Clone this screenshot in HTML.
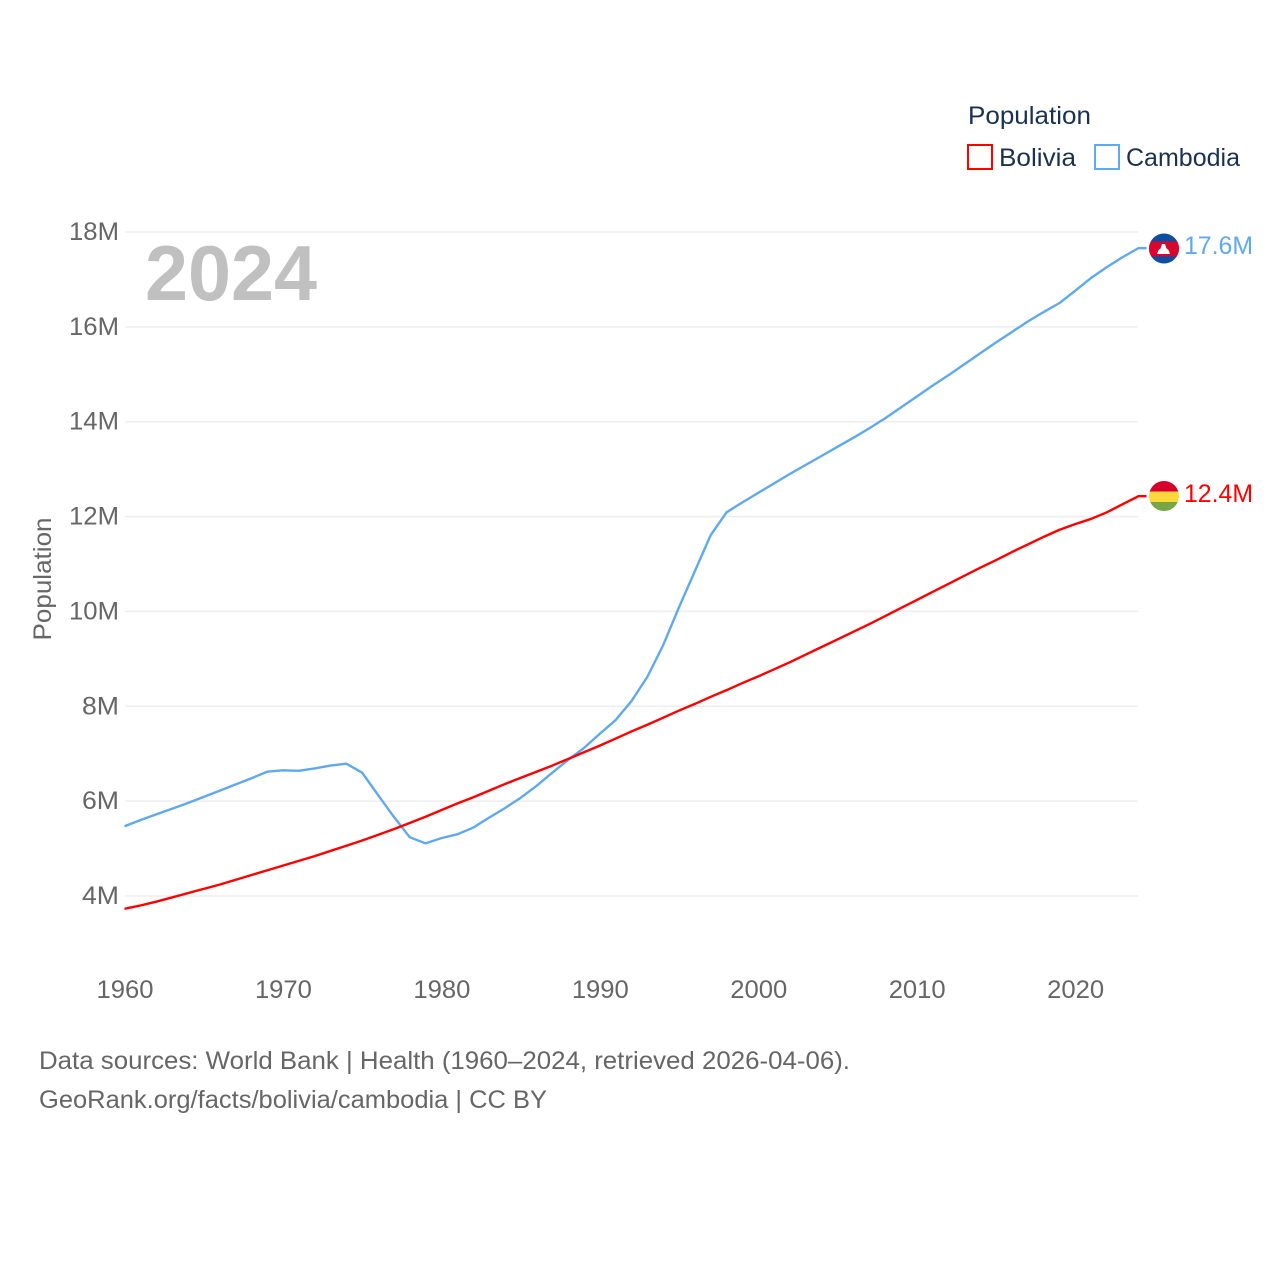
<!DOCTYPE html>
<html lang="en">
<head>
<meta charset="utf-8">
<title>Population: Bolivia and Cambodia</title>
<style>
html,body{margin:0;padding:0;background:#fff;width:1280px;height:1280px;overflow:hidden}
svg{display:block}
text{font-family:"Liberation Sans",sans-serif}
</style>
</head>
<body>
<svg id="chart" width="1280" height="1280" viewBox="0 0 1280 1280" xmlns="http://www.w3.org/2000/svg">
  <g id="grid"></g>
  <g id="ytick-labels"></g>
  <g id="xtick-labels"></g>
  <text transform="translate(51,579) rotate(-90)" text-anchor="middle" font-size="25" fill="#666" textLength="123" lengthAdjust="spacingAndGlyphs">Population</text>
  <text x="145" y="300" font-size="78" font-weight="bold" fill="#c0c0c0" textLength="172" lengthAdjust="spacingAndGlyphs">2024</text>
  <g id="series"></g>

  <g>
    <text x="968" y="124" font-size="25" fill="#1a3152" textLength="123" lengthAdjust="spacingAndGlyphs">Population</text>
    <g>
      <rect x="968" y="145" width="24" height="24" fill="none" stroke="#ff0000" stroke-width="2"/>
      <text x="999" y="166" font-size="25" fill="#1a3152" textLength="77" lengthAdjust="spacingAndGlyphs">Bolivia</text>
    </g>
    <g>
      <rect x="1095" y="145" width="24" height="24" fill="none" stroke="#5ea9ef" stroke-width="2"/>
      <text x="1126" y="166" font-size="25" fill="#1a3152" textLength="114" lengthAdjust="spacingAndGlyphs">Cambodia</text>
    </g>
  </g>

  <defs>
    <clipPath id="flag-clip-kh"><circle cx="1164" cy="248.5" r="15"/></clipPath>
    <clipPath id="flag-clip-bo"><circle cx="1164" cy="496" r="15"/></clipPath>
  </defs>
  <g clip-path="url(#flag-clip-kh)">
    <rect x="1149" y="233" width="30" height="31" fill="#0b4ea2"/>
    <rect x="1149" y="241.5" width="30" height="15" fill="#d8062c"/>
    <path d="M1157 254L1158.5 250L1160.5 248.5L1162 244L1165 244L1166.5 248.5L1168.5 250L1170 254z" fill="#fff"/>
  </g>
  <g clip-path="url(#flag-clip-bo)">
    <rect x="1149" y="481" width="30" height="10.5" fill="#d6002c"/>
    <rect x="1149" y="491.5" width="30" height="10.5" fill="#fdd83a"/>
    <rect x="1149" y="502" width="30" height="10" fill="#75a844"/>
  </g>
  <text x="1184" y="254" font-size="25" fill="#5ea9ef" textLength="69" lengthAdjust="spacingAndGlyphs">17.6M</text>
  <text x="1184" y="502" font-size="25" fill="#ff0000" textLength="69" lengthAdjust="spacingAndGlyphs">12.4M</text>

  <text x="39" y="1069" font-size="25" fill="#666" textLength="811" lengthAdjust="spacingAndGlyphs">Data sources: World Bank | Health (1960–2024, retrieved 2026-04-06).</text>
  <text x="39" y="1108" font-size="25" fill="#666" textLength="508" lengthAdjust="spacingAndGlyphs">GeoRank.org/facts/bolivia/cambodia | CC BY</text>
</svg>
<script>
const years = [1960,1961,1962,1963,1964,1965,1966,1967,1968,1969,1970,1971,1972,1973,1974,1975,1976,1977,1978,1979,1980,1981,1982,1983,1984,1985,1986,1987,1988,1989,1990,1991,1992,1993,1994,1995,1996,1997,1998,1999,2000,2001,2002,2003,2004,2005,2006,2007,2008,2009,2010,2011,2012,2013,2014,2015,2016,2017,2018,2019,2020,2021,2022,2023,2024];
const bolivia = [3.73,3.80,3.88,3.97,4.06,4.15,4.24,4.34,4.44,4.54,4.64,4.74,4.84,4.95,5.06,5.17,5.29,5.41,5.54,5.67,5.81,5.95,6.08,6.22,6.36,6.49,6.62,6.75,6.89,7.03,7.17,7.32,7.47,7.61,7.76,7.91,8.05,8.20,8.34,8.49,8.63,8.78,8.93,9.09,9.25,9.41,9.57,9.73,9.90,10.07,10.24,10.41,10.58,10.75,10.92,11.08,11.25,11.41,11.57,11.72,11.84,11.95,12.09,12.26,12.43];
const cambodia = [5.47,5.60,5.72,5.84,5.96,6.09,6.22,6.35,6.48,6.62,6.65,6.64,6.69,6.75,6.79,6.60,6.13,5.67,5.24,5.11,5.22,5.30,5.44,5.65,5.85,6.07,6.32,6.60,6.87,7.12,7.42,7.71,8.11,8.62,9.29,10.09,10.85,11.61,12.09,12.30,12.50,12.70,12.90,13.09,13.28,13.47,13.66,13.86,14.07,14.30,14.53,14.76,14.98,15.21,15.44,15.67,15.89,16.11,16.31,16.50,16.76,17.03,17.26,17.47,17.66];
const yTicks = [4,6,8,10,12,14,16,18];
const xTicks = [1960,1970,1980,1990,2000,2010,2020];

const NS = 'http://www.w3.org/2000/svg';
function xScale(year){ return 124.5 + (year - 1960) * (1138.5 - 124.5) / 64; }
function yScale(v){ return 896 - (v - 4) * (896 - 232) / 14; }

const gridG = document.getElementById('grid');
const yG = document.getElementById('ytick-labels');
const xG = document.getElementById('xtick-labels');
const seriesG = document.getElementById('series');

yTicks.forEach(function(t){
  const line = document.createElementNS(NS, 'line');
  
  
  line.setAttribute('x1', 125);
  line.setAttribute('x2', 1138);
  line.setAttribute('y1', yScale(t));
  line.setAttribute('y2', yScale(t));
  line.setAttribute('stroke', '#eeeeee');
  line.setAttribute('stroke-width', 1.5);
  gridG.appendChild(line);

  const label = document.createElementNS(NS, 'text');
  
  
  label.setAttribute('x', 119);
  label.setAttribute('y', yScale(t) + 8);
  label.setAttribute('text-anchor', 'end');
  label.setAttribute('font-size', 25);
  label.setAttribute('fill', '#666');
  label.textContent = t + 'M';
  label.setAttribute('textLength', t >= 10 ? 50 : 37);
  label.setAttribute('lengthAdjust', 'spacingAndGlyphs');
  yG.appendChild(label);
});

xTicks.forEach(function(t){
  const label = document.createElementNS(NS, 'text');
  
  
  label.setAttribute('x', xScale(t) + 0.5);
  label.setAttribute('y', 998);
  label.setAttribute('text-anchor', 'middle');
  label.setAttribute('font-size', 25);
  label.setAttribute('fill', '#666');
  label.setAttribute('textLength', 57);
  label.setAttribute('lengthAdjust', 'spacingAndGlyphs');
  label.textContent = t;
  xG.appendChild(label);
});

function drawSeries(values, color, name){
  let d = '';
  values.forEach(function(v, i){
    d += (i ? 'L' : 'M') + xScale(years[i]).toFixed(2) + ' ' + yScale(v).toFixed(2);
  });
  d += 'L1146.5 ' + yScale(values[values.length - 1]).toFixed(2);
  const path = document.createElementNS(NS, 'path');
  
  
  path.setAttribute('d', d);
  path.setAttribute('fill', 'none');
  path.setAttribute('stroke', color);
  path.setAttribute('stroke-width', 2.4);
  path.setAttribute('stroke-linejoin', 'round');
  seriesG.appendChild(path);
}

drawSeries(cambodia, '#5ea9ef', 'cambodia-line');
drawSeries(bolivia, '#ff0000', 'bolivia-line');
</script>
</body>
</html>
